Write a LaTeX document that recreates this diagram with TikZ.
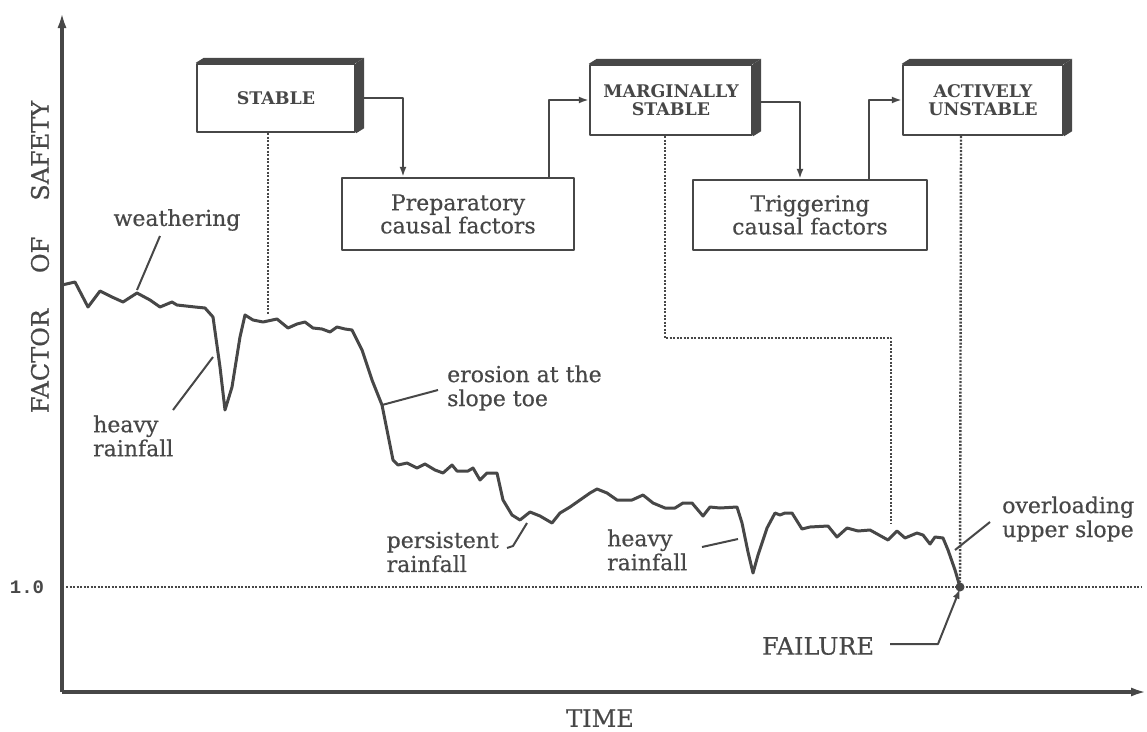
\documentclass[tikz,border=0pt]{standalone}
\usepackage{fontspec}
\setmainfont{DejaVu Serif}[FakeBold=0.5]
\newfontfamily\statefont{DejaVu Serif Bold}
\newfontfamily\numfont{Liberation Mono Bold}
\usetikzlibrary{arrows.meta,calc}
\definecolor{ink}{gray}{0.28}
\begin{document}
\begin{tikzpicture}[x=1pt,y=-1pt,
  ink, line join=round,
  factorbox/.style={draw=ink, line width=2.4pt, fill=white, align=center, inner sep=0pt,
    text=ink, font=\fontsize{22}{23}\selectfont},
  statebox/.style={factorbox, font=\statefont\fontsize{17.4}{18}\selectfont},
  flow/.style={draw=ink, line width=2pt, -{Latex[length=10pt,width=7pt]}},
  guide/.style={draw=ink, line width=2.4pt, dash pattern=on 2pt off 1.5pt},
  leader/.style={draw=ink, line width=2pt},
  lbl/.style={text=ink, align=left, inner sep=0pt, font=\fontsize{22}{24}\selectfont},
  axisline/.style={draw=ink, line width=3.4pt, -{Latex[length=16pt,width=9pt]}},
]
\useasboundingbox (0,0) rectangle (1147,731);

% axes
\coordinate (origin) at (62,692);
\coordinate (ytop) at (62,12);
\coordinate (xend) at (1147,692);
\draw[axisline] (origin) -- (ytop);
\draw[axisline] (origin) -- (xend);
\node[text=ink, rotate=90, font=\fontsize{24}{26}\selectfont] (ylab) at (40,257) {FACTOR\hspace{1.5em}OF\hspace{1.5em}SAFETY};
\node[text=ink, font=\fontsize{24}{26}\selectfont] (xlab) at (600,718) {TIME};
\node[text=ink, font=\numfont\fontsize{19}{20}\selectfont] (one) at (27,587) {1.0};

% failure point and 1.0 line
\node[circle, fill=ink, inner sep=0pt, minimum size=9pt] (fail) at (960,587) {};
\coordinate (oneL) at (66,587);
\coordinate (oneR) at (1141,587);
\draw[guide] (oneL) -- (oneR);

% boxes
\node[statebox, minimum width=158pt, minimum height=68pt] (stable) at (276,98) {STABLE};
\node[statebox, minimum width=162pt, minimum height=70pt] (marg) at (671,100) {MARGINALLY\\STABLE};
\node[statebox, minimum width=160pt, minimum height=70pt] (act) at (983,100) {ACTIVELY\\UNSTABLE};
\node[factorbox, minimum width=232pt, minimum height=72pt] (prep) at (458,214) {Preparatory\\causal factors};
\node[factorbox, minimum width=234pt, minimum height=70pt] (trig) at (810,215) {Triggering\\causal factors};

\foreach \n in {stable,marg,act}{
  \fill[ink] (\n.north west) -- ++(8,-5) -- ($(\n.north east)+(8,-5)$) -- (\n.north east) -- cycle;
  \fill[ink] (\n.north east) -- ++(8,-5) -- ($(\n.south east)+(8,-5)$) -- (\n.south east) -- cycle;
}

% flow connectors
\draw[flow] ([xshift=8pt]stable.east) -| ([xshift=-55pt]prep.north);
\draw[flow] ([xshift=91pt]prep.north) |- (marg.west);
\draw[flow] ([xshift=8pt,yshift=-2pt]marg.east) -| ([xshift=-10pt]trig.north);
\draw[flow] ([xshift=59pt]trig.north) |- (act.west);

% curve
\draw[ink, line width=3pt] plot coordinates {
(62,285) (75,282) (88,307) (100,291) (112,297) (123,302) (137,293) (150,300) (160,307) (172,302) (177,305) (195,307) (205,308) (213,317) (220,367) (225,410) (232,387) (240,337) (245,315) (253,320) (263,322) (277,319) (288,328) (297,324) (305,322) (313,328) (322,329) (330,332) (337,327) (345,329) (352,330) (362,350) (372,380) (382,405) (393,460) (398,465) (407,463) (417,468) (425,464) (435,470) (443,473) (452,465) (457,471) (468,471) (473,468) (480,480) (487,473) (497,473) (503,500) (512,515) (520,520) (530,512) (540,516) (552,523) (560,513) (570,507) (580,500) (590,493) (597,489) (607,493) (617,500) (632,500) (643,495) (653,503) (665,508) (675,508) (683,503) (692,503) (703,516) (710,507) (720,508) (737,507) (742,523) (748,552) (753,573) (758,555) (767,528) (775,513) (780,515) (785,513) (792,513) (802,529) (810,527) (828,526) (837,537) (847,528) (858,531) (870,530) (888,540) (897,531) (905,538) (917,533) (923,535) (930,544) (935,537) (943,538) (948,550) (955,570) (960,587)};

% guide lines from state boxes
\coordinate (cStable) at (268,314);
\coordinate (cMarg) at (891,524);
\draw[guide] ([xshift=-8pt]stable.south) -- (cStable);
\draw[guide] ([xshift=-6pt]marg.south) |- (891,338) -- (cMarg);
\draw[guide] ([xshift=-22pt]act.south) -- (fail);

% labels and leaders
\node[lbl] (wea) at (177,220) {weathering};
\coordinate (wA) at (160,236); \coordinate (wB) at (137,290);
\draw[leader] (wA) -- (wB);

\node[lbl, anchor=west] (hr1) at (93,436) {heavy\\rainfall};
\coordinate (h1A) at (173,410); \coordinate (h1B) at (213,357);
\draw[leader] (h1A) -- (h1B);

\node[lbl, anchor=west] (ero) at (447,388) {erosion at the\\slope toe};
\coordinate (eA) at (438,390); \coordinate (eB) at (382,405);
\draw[leader] (eA) -- (eB);

\node[lbl, anchor=east] (per) at (499,552) {persistent\\rainfall};
\coordinate (pA) at (507,548); \coordinate (pB) at (527,523);
\draw[leader] (pA) -- (513,546) -- (pB);

\node[lbl, anchor=west] (hr2) at (607,550) {heavy\\rainfall};
\coordinate (h2A) at (702,547); \coordinate (h2B) at (738,539);
\draw[leader] (h2A) -- (h2B);

\node[lbl, anchor=west] (ov) at (1002,519) {overloading\\upper slope};
\coordinate (oA) at (990,522); \coordinate (oB) at (955,550);
\draw[leader] (oA) -- (oB);

\node[lbl, font=\fontsize{24}{26}\selectfont] (flab) at (818,646) {FAILURE};
\coordinate (fA) at (890,644); \coordinate (fB) at (938,644);
\draw[leader, -{Latex[length=10pt,width=7pt]}] (fA) -- (fB) -- ([yshift=3pt]fail.south);
\end{tikzpicture}
\end{document}
